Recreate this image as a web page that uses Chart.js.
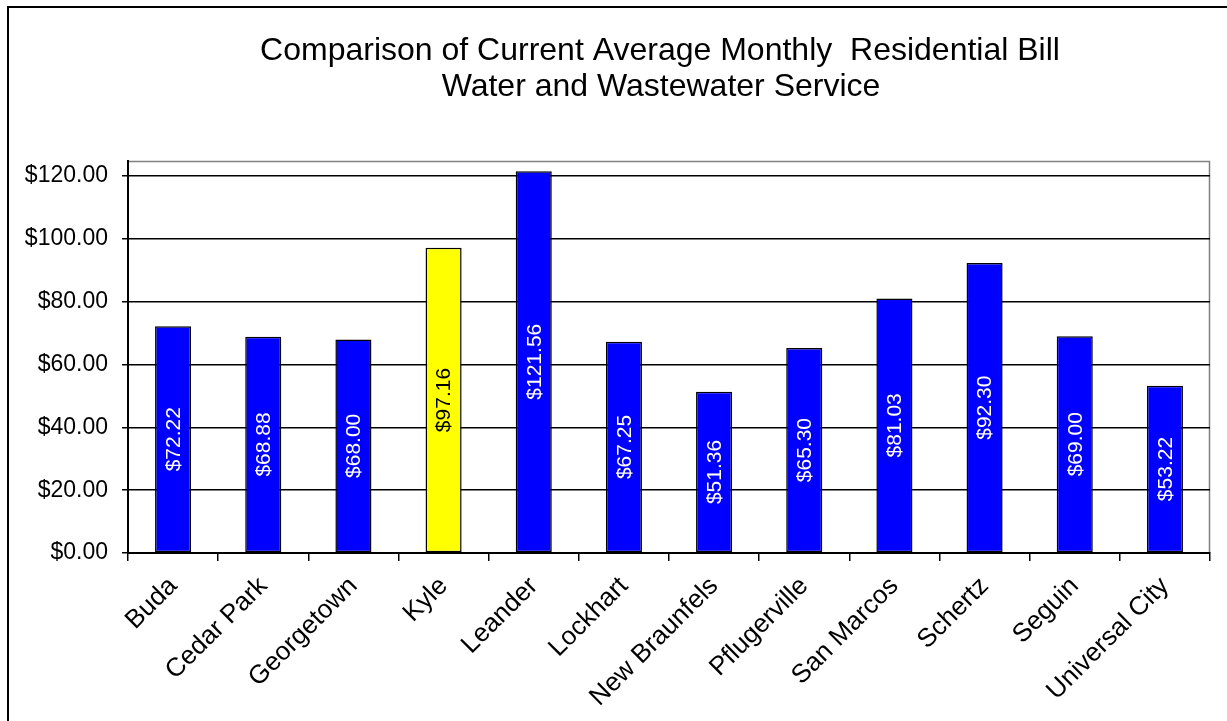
<!DOCTYPE html>
<html>
<head>
<meta charset="utf-8">
<style>
  html, body { margin: 0; padding: 0; background: #fff; }
  #wrap { width: 1227px; height: 721px; position: relative; }
</style>
<script src="https://cdn.jsdelivr.net/npm/chart.js@4.4.1/dist/chart.umd.min.js"></script>
</head>
<body>
<div id="wrap"><canvas id="c" width="1227" height="721"></canvas></div>
<script>
// Cities compared and their average monthly water + wastewater bill (USD)
const cities = ['Buda', 'Cedar Park', 'Georgetown', 'Kyle', 'Leander', 'Lockhart',
  'New Braunfels', 'Pflugerville', 'San Marcos', 'Schertz', 'Seguin', 'Universal City'];
const monthlyBill = [72.22, 68.88, 68.00, 97.16, 121.56, 67.25, 51.36, 65.30, 81.03, 92.30, 69.00, 53.22];
const highlightCity = 'Kyle';
const titleLines = ['Comparison of Current Average Monthly  Residential Bill', 'Water and Wastewater Service'];
const yTickValues = [0, 20, 40, 60, 80, 100, 120];

const FONT = "'Liberation Sans', Arial, Helvetica, sans-serif";
const money = v => '$' + Number(v).toFixed(2);

const barFill = cities.map(c => c === highlightCity ? '#FFFF00' : '#0000FF');
const labelInk = cities.map(c => c === highlightCity ? '#000000' : '#FFFFFF');

// Outer frame, chart title and plot-area outline
const framePlugin = {
  id: 'frame',
  beforeDraw(chart) {
    const ctx = chart.ctx;
    ctx.save();
    ctx.fillStyle = '#fff';
    ctx.fillRect(0, 0, chart.width, chart.height);
    ctx.strokeStyle = '#000';
    ctx.lineWidth = 2;
    ctx.strokeRect(8, 7, chart.width + 50, chart.height + 50);
    ctx.fillStyle = '#000';
    ctx.font = '32px ' + FONT;
    ctx.textAlign = 'center';
    ctx.textBaseline = 'middle';
    ctx.fillText(titleLines[0], 660, 51);
    ctx.fillText(titleLines[1], 661, 87);
    const a = chart.chartArea;
    ctx.strokeStyle = '#808080';
    ctx.lineWidth = 1.5;
    ctx.beginPath();
    ctx.moveTo(a.left, a.top + 0.5);
    ctx.lineTo(a.right - 0.5, a.top + 0.5);
    ctx.lineTo(a.right - 0.5, a.bottom);
    ctx.stroke();
    ctx.restore();
  }
};

// Vertical value labels centred inside each bar
const barValuePlugin = {
  id: 'barValues',
  afterDatasetsDraw(chart) {
    const ctx = chart.ctx;
    const meta = chart.getDatasetMeta(0);
    ctx.save();
    ctx.font = '21px ' + FONT;
    ctx.textAlign = 'center';
    ctx.textBaseline = 'middle';
    meta.data.forEach((bar, i) => {
      const cy = (bar.y + bar.base) / 2;
      ctx.save();
      ctx.translate(bar.x, cy);
      ctx.rotate(-Math.PI / 2);
      ctx.fillStyle = labelInk[i];
      ctx.fillText(money(monthlyBill[i]), 0, 1);
      ctx.restore();
    });
    ctx.restore();
  }
};

new Chart(document.getElementById('c'), {
  type: 'bar',
  data: {
    labels: cities,
    datasets: [{
      data: monthlyBill,
      backgroundColor: barFill,
      borderColor: '#000',
      borderWidth: 1.5,
      borderSkipped: false,
      categoryPercentage: 1.0,
      barPercentage: 0.4
    }]
  },
  options: {
    responsive: false,
    animation: false,
    devicePixelRatio: 1,
    layout: { padding: { top: 161, left: 10, right: 17, bottom: 0 } },
    plugins: {
      legend: { display: false },
      title: { display: false },
      tooltip: { enabled: false }
    },
    scales: {
      x: {
        offset: true,
        grid: {
          offset: true,
          drawOnChartArea: false,
          drawTicks: true,
          tickLength: 8,
          color: '#000',
          lineWidth: 1.5
        },
        border: { color: '#000', width: 2 },
        ticks: {
          color: '#000',
          font: { family: FONT, size: 26 },
          minRotation: 45,
          maxRotation: 45,
          autoSkip: false,
          padding: 10
        },
        afterFit(scale) { scale.height = 168; }
      },
      y: {
        min: 0,
        max: 124.8,
        grid: {
          color: '#000',
          lineWidth: 1.5,
          tickLength: 6,
          drawTicks: true
        },
        border: { color: '#000', width: 2 },
        ticks: {
          stepSize: 20,
          color: '#000',
          padding: 14,
          font: { family: FONT, size: 23 },
          callback: v => money(v)
        },
        afterBuildTicks(scale) {
          scale.ticks = yTickValues.map(v => ({ value: v }));
        },
        afterFit(scale) { scale.width = 118; }
      }
    }
  },
  plugins: [framePlugin, barValuePlugin]
});
</script>
</body>
</html>
